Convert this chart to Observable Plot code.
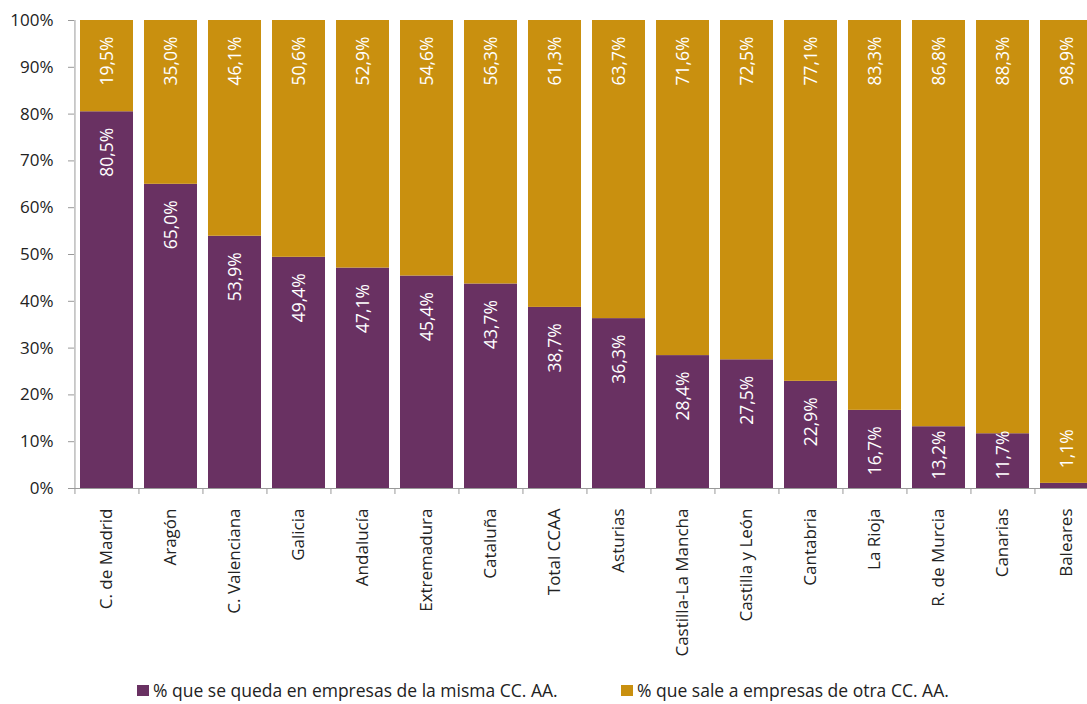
<!DOCTYPE html>
<html>
<head>
<meta charset="utf-8">
<script src="https://cdn.jsdelivr.net/npm/d3@7"></script>
<script src="https://cdn.jsdelivr.net/npm/@observablehq/plot@0.6"></script>
<style>
  html, body { margin: 0; padding: 0; background: #fff; overflow: hidden; }
  #wrap { position: relative; width: 1087px; height: 704px; font-family: "Open Sans", sans-serif; }
  .leg { position: absolute; top: 680px; line-height: 20px; display: flex; align-items: center; font-size: 17.5px; color: #222; white-space: nowrap; }
  .sw { width: 12px; height: 11px; margin-right: 4px; }
</style>
</head>
<body>
<div id="wrap"></div>
<script>
const regions = ["C. de Madrid", "Aragón", "C. Valenciana", "Galicia", "Andalucía", "Extremadura", "Cataluña", "Total CCAA", "Asturias", "Castilla-La Mancha", "Castilla y León", "Cantabria", "La Rioja", "R. de Murcia", "Canarias", "Baleares"];
const seriesNames = ["% que se queda en empresas de la misma CC. AA.", "% que sale a empresas de otra CC. AA."];
const seriesColors = ["#693162", "#C9900F"];
const queda = [80.5, 65.0, 53.9, 49.4, 47.1, 45.4, 43.7, 38.7, 36.3, 28.4, 27.5, 22.9, 16.7, 13.2, 11.7, 1.1];
const sale = [19.5, 35.0, 46.1, 50.6, 52.9, 54.6, 56.3, 61.3, 63.7, 71.6, 72.5, 77.1, 83.3, 86.8, 88.3, 98.9];
const yTicks = [0, 10, 20, 30, 40, 50, 60, 70, 80, 90, 100];

const data = [];
regions.forEach((r, i) => {
  data.push({region: r, serie: seriesNames[0], value: queda[i]});
  data.push({region: r, serie: seriesNames[1], value: sale[i]});
});
const fmt = v => v.toFixed(1).replace(".", ",") + "%";

const W = 1087, H = 680, ML = 74, MR = -13;
const step = (W - MR - ML) / regions.length;
const font = "Open Sans, sans-serif";
const labelSize = 17.5;

const chart = Plot.plot({
  width: W,
  height: H,
  marginLeft: ML,
  marginRight: MR,
  marginTop: 20,
  marginBottom: H - 488,
  style: {fontFamily: font, fontSize: "16px", color: "#222", background: "#fff"},
  x: {domain: regions, paddingInner: 0.17, paddingOuter: 0.085, label: null, axis: null},
  y: {domain: [0, 100], label: null, axis: null},
  color: {domain: seriesNames, range: seriesColors},
  marks: [
    Plot.barY(data, {x: "region", y: "value", fill: "serie"}),
    // labels that fit: inside end
    Plot.text(data, Plot.stackY2({
      x: "region", y: "value", z: "serie",
      text: d => d.value >= 15 ? fmt(d.value) : null,
      rotate: -90, textAnchor: "end", dy: 16, fill: "white", fontSize: labelSize
    })),
    // short segments: pushed to fit inside
    Plot.text(data, Plot.stackY1({
      x: "region", y: "value", z: "serie",
      text: d => d.value >= 5 && d.value < 15 ? fmt(d.value) : null,
      rotate: -90, textAnchor: "start", dy: -9, fill: "white", fontSize: labelSize
    })),
    // tiny segments: above the bar
    Plot.text(data, Plot.stackY2({
      x: "region", y: "value", z: "serie",
      text: d => d.value < 5 ? fmt(d.value) : null,
      rotate: -90, textAnchor: "start", dy: -15, fill: "white", fontSize: labelSize
    })),
    Plot.axisY({ticks: yTicks, tickFormat: d => d + "%", tickSize: 6, tickPadding: 15, stroke: "#999", fill: "#222", fontSize: 17}),
    Plot.ruleX([regions[0]], {x: d => d, y1: 0, y2: 100, dx: -step / 2, stroke: "#999"}),
    Plot.ruleY([0], {stroke: "#999"}),
    Plot.axisX({tickSize: 6, tickFormat: () => "", dx: -step / 2, stroke: "#999"}),
    Plot.axisX({tickSize: 0, tickRotate: -90, tickPadding: 20, fill: "#222", fontSize: 17})
  ]
});
const wrap = document.getElementById("wrap");
wrap.appendChild(chart);

const lefts = [137, 621];
seriesNames.forEach((s, i) => {
  const d = document.createElement("div");
  d.className = "leg";
  d.style.left = lefts[i] + "px";
  d.innerHTML = `<span class="sw" style="background:${seriesColors[i]}"></span><span>${s}</span>`;
  wrap.appendChild(d);
});
</script>
</body>
</html>
